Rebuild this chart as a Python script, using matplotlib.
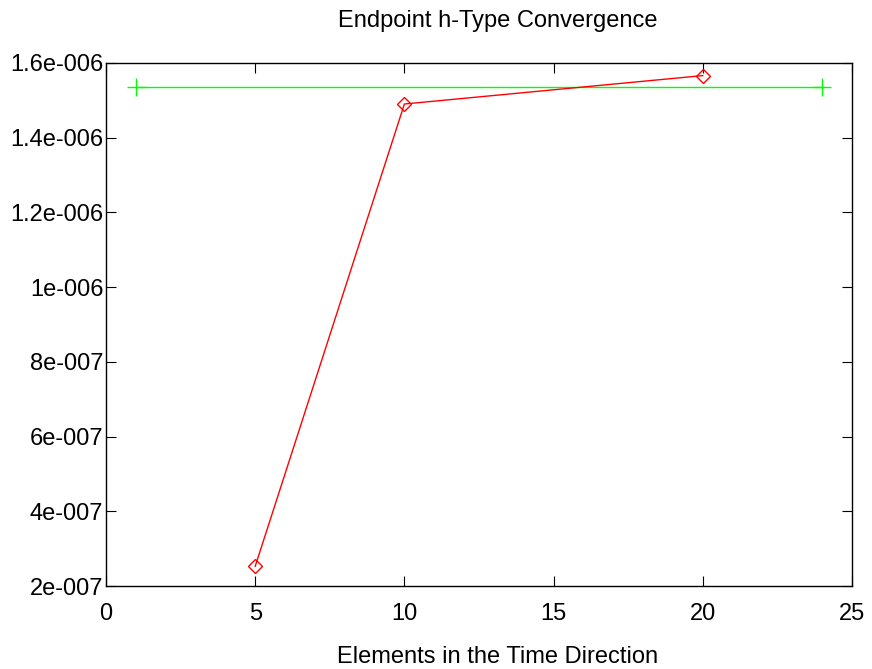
import numpy as np
import matplotlib.pyplot as plt
from matplotlib.ticker import FuncFormatter

plt.rcParams['font.family'] = ['Liberation Sans', 'DejaVu Sans']

elements = [5, 10, 20]
endpoint = [2.53e-7, 1.49e-6, 1.566e-6]
ref_x = [1, 24]
ref_y = [1.535e-6, 1.535e-6]

x_ticks = [0, 5, 10, 15, 20, 25]
y_ticks = [2e-7, 4e-7, 6e-7, 8e-7, 1e-6, 1.2e-6, 1.4e-6, 1.6e-6]


def matlab_fmt(v, pos):
    s = "%g" % v
    if "e" in s:
        m, e = s.split("e")
        sign = e[0]
        s = m + "e" + sign + "%03d" % abs(int(e))
    return s


fig = plt.figure(figsize=(8.72, 6.69), dpi=100)
ax = fig.add_axes([0.1216, 0.124, 0.8554, 0.782])

ax.plot(ref_x, ref_y, color='#00ff00', lw=1, marker='+', ms=13, mew=1)
ax.plot(elements, endpoint, color='red', lw=1, marker='D', ms=7,
        mfc='none', mew=1)

ax.set_xlim(0, 25)
ax.set_ylim(2e-7, 1.6e-6)
ax.set_xticks(x_ticks)
ax.set_yticks(y_ticks)
ax.yaxis.set_major_formatter(FuncFormatter(matlab_fmt))
ax.tick_params(direction='in', top=True, right=True, labelsize=17, length=7)
ax.tick_params(axis='x', pad=12)
ax.tick_params(axis='y', pad=2)
for s in ax.spines.values():
    s.set_linewidth(1)

ax.set_title("Endpoint h-Type Convergence", fontsize=17, pad=26, x=0.5255)
ax.set_xlabel("Elements in the Time Direction", fontsize=17, x=0.5255)
ax.xaxis.labelpad = 15

fig.savefig("out.png", dpi=100)
